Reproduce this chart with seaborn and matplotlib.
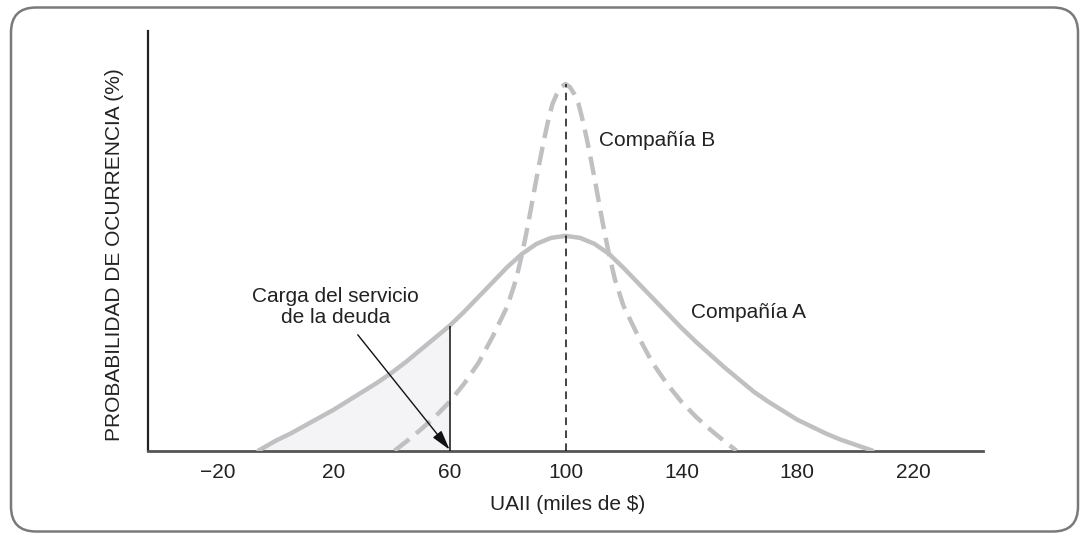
import numpy as np
import matplotlib
matplotlib.use("Agg")
import matplotlib.pyplot as plt
import seaborn as sns
from matplotlib.patches import FancyBboxPatch

# ==========================================
# Data
# ==========================================

# Compañía A - wide distribution of UAII
uaii_a = [-6, 0, 5, 10, 15, 20, 25, 30, 35, 40, 45, 50, 55, 60, 65, 70, 75, 80, 85, 90, 95, 100,
          105, 110, 115, 120, 125, 130, 135, 140, 145, 150, 155, 160, 165, 170, 175, 180,
          185, 190, 195, 200, 206]
prob_a = [0.0, 0.5, 0.85, 1.25, 1.65, 2.05, 2.5, 2.95, 3.4, 3.9, 4.45, 5.05, 5.65, 6.25,
          6.95, 7.7, 8.45, 9.2, 9.85, 10.35, 10.65, 10.75,
          10.65, 10.35, 9.85, 9.15, 8.4, 7.65, 6.9, 6.15, 5.45, 4.8, 4.15, 3.55, 2.95,
          2.45, 2.0, 1.55, 1.2, 0.85, 0.55, 0.3, 0.0]

# Compañía B - narrow distribution of UAII
uaii_b = [41, 45, 50, 55, 60, 65, 70, 75, 80, 83, 85, 86.5, 88, 89.5, 91, 92.5, 94, 95.5,
          97, 98.5, 100, 101.5, 103, 104.5, 106, 107.5, 109, 110.5, 112, 113.5, 115, 117,
          120, 125, 130, 135, 140, 145, 150, 155, 159]
prob_b = [0.0, 0.45, 1.05, 1.7, 2.45, 3.35, 4.4, 5.75, 7.25, 8.6, 9.85, 10.9, 12.05,
          13.25, 14.4, 15.5, 16.5, 17.35, 17.85, 18.2, 18.35, 18.2, 17.85, 17.35, 16.5,
          15.5, 14.4, 13.25, 12.05, 10.9, 9.85, 8.6, 7.25, 5.75, 4.4, 3.35, 2.45, 1.7,
          1.05, 0.45, 0.0]

debt_service = 60     # carga del servicio de la deuda (miles de $)
expected_uaii = 100   # valor esperado de UAII

tick_values = [-20, 20, 60, 100, 140, 180, 220]
tick_labels = ["\u221220", "20", "60", "100", "140", "180", "220"]

label_a = "Compañía A"
label_b = "Compañía B"
label_debt = "Carga del servicio\nde la deuda"
x_title = "UAII (miles de $)"
y_title = "PROBABILIDAD DE OCURRENCIA (%)"

# ==========================================
# Style
# ==========================================

sns.set_style("white")
plt.rcParams["font.family"] = ["Liberation Sans", "DejaVu Sans"]
plt.rcParams["font.size"] = 15

curve_color = "#c0c0c3"
text_color = "#222222"

fig = plt.figure(figsize=(10.85, 5.35), dpi=100)
ax = fig.add_axes([0.1364, 0.1576, 0.7696, 0.7844])

# ==========================================
# Curves
# ==========================================

x_a = np.array(uaii_a, dtype=float)
y_a = np.array(prob_a)

mask = x_a <= debt_service
ax.fill_between(x_a[mask], 0, y_a[mask], color="#f4f4f6", linewidth=0, zorder=1)

sns.lineplot(x=uaii_a, y=prob_a, ax=ax, color=curve_color, linewidth=3.2, zorder=3)
sns.lineplot(x=uaii_b, y=prob_b, ax=ax, color=curve_color, linewidth=3.2,
             linestyle=(0, (4.2, 2.0)), zorder=3)

# debt service line and expected value line
ax.vlines(debt_service, 0, y_a[x_a == debt_service][0], color="#111111", linewidth=1.1, zorder=4)
ax.vlines(expected_uaii, 0, max(prob_b), color="#111111", linewidth=1.1,
          linestyles=(0, (5, 3.5)), zorder=4)

# ==========================================
# Annotations
# ==========================================

ax.text(111.7, 15.5, label_b, color=text_color, fontsize=15, va="center", ha="left")
ax.text(143.4, 6.9, label_a, color=text_color, fontsize=15, va="center", ha="left")
ax.text(20.7, 7.2, label_debt, color=text_color, fontsize=15, va="center", ha="center",
        linespacing=1.15)
ax.annotate("", xy=(debt_service, 0.05), xytext=(28.3, 5.8),
            arrowprops=dict(arrowstyle="-|>,head_length=0.8,head_width=0.22",
                            color="#111111", lw=1.0, mutation_scale=15,
                            shrinkA=0, shrinkB=0), zorder=5)

# ==========================================
# Axes
# ==========================================

ax.set_xlim(-44.1, 244.1)
ax.set_ylim(0, 21)
ax.set_xticks(tick_values)
ax.set_xticklabels(tick_labels)
ax.set_yticks([])

ax.tick_params(axis="x", direction="in", length=8, width=1.3, color="#333333",
               labelcolor=text_color, labelsize=15, pad=9)

for side in ["top", "right"]:
    ax.spines[side].set_visible(False)
ax.spines["left"].set_color("#222222")
ax.spines["left"].set_linewidth(1.6)
ax.spines["bottom"].set_color("#555555")
ax.spines["bottom"].set_linewidth(2.0)

ax.set_xlabel(x_title, color=text_color, fontsize=15)
ax.xaxis.set_label_coords(0.502, -0.105)
ax.set_ylabel(y_title, color=text_color, fontsize=15)
ax.yaxis.set_label_coords(-0.029, 0.468)

# rounded frame round the whole figure
frame = FancyBboxPatch((0.11, 0.035), 10.67, 5.24,
                       boxstyle="round,pad=0,rounding_size=0.25",
                       transform=fig.dpi_scale_trans, fill=False,
                       edgecolor="#7a7a7a", linewidth=1.8)
fig.patches.append(frame)

fig.savefig("out.png", dpi=100)
